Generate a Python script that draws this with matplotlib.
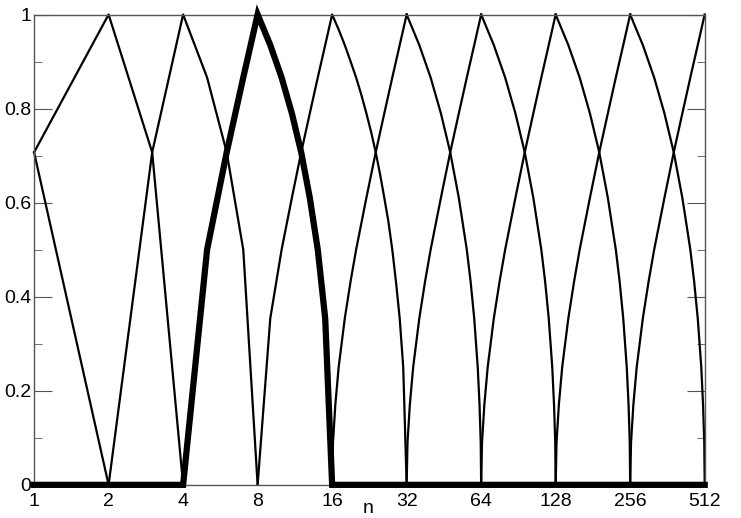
import numpy as np
import matplotlib
matplotlib.use('Agg')
import matplotlib.pyplot as plt
from matplotlib.ticker import MultipleLocator, FixedLocator, FixedFormatter

plt.rcParams['font.family'] = ['Liberation Sans', 'DejaVu Sans']

# tick positions on the n axis
n_ticks = [1, 2, 4, 8, 16, 32, 64, 128, 256, 512]
n_labels = ['1', '2', '4', '8', '16', '32', '64', '128', '256', '512']

# low octaves, read point by point
n_p1 = [1, 2]
v_p1 = [0.707, 0.0]
n_p2 = [1, 2, 3, 4]
v_p2 = [0.707, 1.0, 0.707, 0.0]
n_p4 = [2, 3, 4, 5, 6, 7, 8]
v_p4 = [0.0, 0.707, 1.0, 0.866, 0.707, 0.5, 0.0]
n_p16 = [8, 9, 10, 11, 12, 13, 14, 15, 16, 17, 18, 19, 20, 21, 22, 23, 24,
         25, 26, 27, 28, 29, 30, 31, 32]
v_p16 = [0.0, 0.354, 0.5, 0.61, 0.707, 0.79, 0.866, 0.935, 1.0, 0.968, 0.935,
         0.90, 0.866, 0.829, 0.79, 0.75, 0.707, 0.66, 0.61, 0.56, 0.5, 0.43,
         0.354, 0.25, 0.0]

# highlighted window (peak at 8), zero outside 4..16
n_bold = [1, 4, 5, 6, 7, 8, 9, 10, 11, 12, 13, 14, 15, 16, 512]
v_bold = [0.0, 0.0, 0.5, 0.707, 0.866, 1.0, 0.935, 0.866, 0.79, 0.707, 0.61,
          0.5, 0.354, 0.0, 0.0]

# higher octaves: same shape inside each octave (fraction of octave -> value)
big_peaks = [32, 64, 128, 256, 512]
oct_frac = [0.0, 0.008, 0.03, 0.0625, 0.125, 0.1875, 0.25, 0.375, 0.5, 0.625,
            0.75, 0.875, 1.0]
oct_val = [0.0, 0.09, 0.17, 0.25, 0.354, 0.433, 0.5, 0.61, 0.707, 0.79,
           0.866, 0.935, 1.0]

fig = plt.figure(figsize=(7.41, 5.18), dpi=100)
ax = fig.add_axes([0.046, 0.064, 0.905, 0.908])

lw = 1.6
for n, v in [(n_p1, v_p1), (n_p2, v_p2), (n_p4, v_p4), (n_p16, v_p16)]:
    ax.plot(n, v, color='black', lw=lw, clip_on=False)

frac = np.array(oct_frac)
val = np.array(oct_val)
for p in big_peaks:
    up_n = p / 2 * (1 + frac)
    ax.plot(up_n, val, color='black', lw=lw, clip_on=False)
    if p < 512:
        down_n = p * (2 - frac)
        ax.plot(down_n, val, color='black', lw=lw, clip_on=False)

ax.plot(n_bold, v_bold, color='black', lw=4.5, clip_on=False,
        solid_joinstyle='miter', zorder=3)

ax.set_xscale('log', base=2)
ax.set_xlim(1, 512)
ax.set_ylim(0, 1)
ax.xaxis.set_major_locator(FixedLocator(n_ticks))
ax.xaxis.set_major_formatter(FixedFormatter(n_labels))
ax.xaxis.set_minor_locator(FixedLocator([]))
ax.tick_params(axis='x', length=0, pad=6, labelsize=14)

ax.yaxis.set_major_locator(MultipleLocator(0.2))
ax.yaxis.set_minor_locator(MultipleLocator(0.1))
ax.set_yticks([0, 0.2, 0.4, 0.6, 0.8, 1.0])
ax.set_yticklabels(['0', '0.2', '0.4', '0.6', '0.8', '1'])
ax.tick_params(axis='y', which='major', direction='in', length=13,
               right=True, color='#555555', labelsize=14, pad=2)
ax.tick_params(axis='y', which='minor', direction='in', length=6,
               right=True, color='#555555')

for s in ax.spines.values():
    s.set_color('#555555')
    s.set_linewidth(1.0)

# axis title sits right at the bottom edge
fig.text(0.497, 0.002, 'n', fontsize=14, ha='center', va='bottom')

fig.savefig('out.png', dpi=100)
